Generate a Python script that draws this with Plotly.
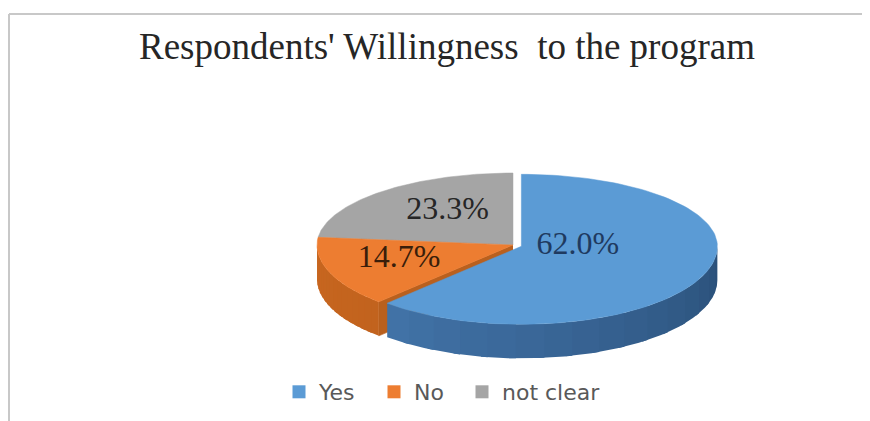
import numpy as np
import plotly.graph_objects as go

# ---- data ----
categories = ["Yes", "No", "not clear"]
values = [62.0, 14.7, 23.3]
value_labels = ["62.0%", "14.7%", "23.3%"]
title_text = "Respondents' Willingness  to the program"

# ---- style ----
top_colors = ["#5B9BD5", "#ED7D31", "#A5A5A5"]
wall_light = ["#4A7FB8", "#C8661F", "#8C8C8C"]
wall_dark = ["#2A5079", "#B05A1B", "#7A7A7A"]
face_colors = ["#3E6C9C", "#B9601E", "#8A8A8A"]
label_colors = ["#1F3A60", "#3A1E0A", "#262626"]
explode = [9, 0, 0]
label_frac = [0.31, 0.62, 0.50]
label_dy = [-9, -3, -7]
legend_left_px = [279, 374, 462]   # page x of each legend entry's left edge

W, H = 870, 421
OFF = 8  # page body margin: axis ranges are shifted so data coords = page pixels
cx, cy = 513, 245
rx = 196
ry_back, ry_front = 72, 78
depth = 34


def pt(theta_deg, dx=0.0, dy=0.0, z=0.0, frac=1.0):
    t = np.radians(theta_deg)
    c = np.cos(t)
    ry = np.where(c > 0, ry_back, ry_front)
    x = cx + dx + frac * rx * np.sin(t)
    y = cy + dy - frac * ry * c + z
    return x, y


total = sum(values)
bounds = np.concatenate([[0], np.cumsum(values) / total * 360.0])

fig = go.Figure()


def poly(xs, ys, color, lw=0.6):
    fig.add_trace(go.Scatter(
        x=list(xs), y=list(ys), mode="lines", fill="toself",
        fillcolor=color, line=dict(color=color, width=lw),
        hoverinfo="skip", showlegend=False))


def mix(c1, c2, f):
    a = [int(c1[i:i + 2], 16) for i in (1, 3, 5)]
    b = [int(c2[i:i + 2], 16) for i in (1, 3, 5)]
    return "#%02x%02x%02x" % tuple(int(round(a[k] + (b[k] - a[k]) * f)) for k in range(3))


offsets = []
for i in range(len(values)):
    a, b = bounds[i], bounds[i + 1]
    mid = np.radians((a + b) / 2)
    d = explode[i]
    offsets.append((d * np.sin(mid), -d * np.cos(mid) * ry_front / rx))


def draw_face(i, ang):
    dx, dy = offsets[i]
    x1, y1 = pt(ang, dx, dy)
    poly([cx + dx, x1, x1, cx + dx], [cy + dy, y1, y1 + depth, cy + dy + depth],
         face_colors[i])


def draw_wall(i):
    a, b = bounds[i], bounds[i + 1]
    lo, hi = max(a, 90.0), min(b, 270.0)
    if hi <= lo:
        return
    dx, dy = offsets[i]
    nseg = 16
    edges = np.linspace(lo, hi, nseg + 1)
    for k in range(nseg):
        e1 = min(edges[k + 1] + 2.0, hi)
        th = np.linspace(edges[k], e1, 14)
        xt, yt = pt(th, dx, dy)
        xs = np.concatenate([xt, xt[::-1]])
        ys = np.concatenate([yt, (yt + depth)[::-1]])
        f = 1 - ((edges[k] + edges[k + 1]) / 2 - 90) / 180.0
        poly(xs, ys, mix(wall_light[i], wall_dark[i], f), lw=0)


def draw_top(i):
    a, b = bounds[i], bounds[i + 1]
    dx, dy = offsets[i]
    th = np.linspace(a, b, 120)
    xt, yt = pt(th, dx, dy)
    xs = np.concatenate([[cx + dx], xt, [cx + dx]])
    ys = np.concatenate([[cy + dy], yt, [cy + dy]])
    poly(xs, ys, top_colors[i], lw=0.5)


# painter's order: back pieces first
draw_face(1, bounds[1])   # "No" radial face, seen through the gap
draw_wall(1)
draw_top(2)
draw_top(1)
draw_wall(0)
draw_top(0)

# data labels
lx, ly = [], []
for i in range(len(values)):
    mid = (bounds[i] + bounds[i + 1]) / 2
    x, y = pt(mid, offsets[i][0], offsets[i][1], frac=label_frac[i])
    lx.append(float(x))
    ly.append(float(y) + label_dy[i])
fig.add_trace(go.Scatter(
    x=lx, y=ly, mode="text", text=value_labels,
    textfont=dict(family="Liberation Serif", size=32, color=label_colors),
    hoverinfo="skip", showlegend=False))

# legend entries (one small legend per entry so each can be placed)
legend_ids = ["legend", "legend2", "legend3"]
for i, c in enumerate(categories):
    fig.add_trace(go.Scatter(
        x=[None], y=[None], mode="markers", name=c, legend=legend_ids[i],
        marker=dict(symbol="square", size=13, color=top_colors[i])))

# chart border
fig.add_shape(type="line", x0=9, y0=14, x1=9, y1=H + OFF, line=dict(color="#C8C8C8", width=2))
fig.add_shape(type="line", x0=9, y0=14, x1=W + OFF, y1=14, line=dict(color="#C8C8C8", width=2))

fig.add_annotation(
    x=447, y=46, xref="x", yref="y", text=title_text, showarrow=False,
    font=dict(family="Liberation Serif", size=37, color="#262626"),
    xanchor="center", yanchor="middle")

legend_common = dict(
    orientation="h", xanchor="left",
    y=1 - (392 - OFF) / H, yanchor="middle",
    font=dict(family="DejaVu Sans", size=22, color="#595959"),
    bgcolor="rgba(0,0,0,0)", itemclick=False, itemdoubleclick=False)

fig.update_layout(
    width=W, height=H,
    margin=dict(l=0, r=0, t=0, b=0),
    paper_bgcolor="white", plot_bgcolor="white",
    xaxis=dict(range=[OFF, W + OFF], visible=False, fixedrange=True),
    yaxis=dict(range=[H + OFF, OFF], visible=False, fixedrange=True),
    showlegend=True,
    legend=dict(x=(legend_left_px[0] - OFF) / W, **legend_common),
    legend2=dict(x=(legend_left_px[1] - OFF) / W, **legend_common),
    legend3=dict(x=(legend_left_px[2] - OFF) / W, **legend_common),
)

fig.write_html("out.html")
